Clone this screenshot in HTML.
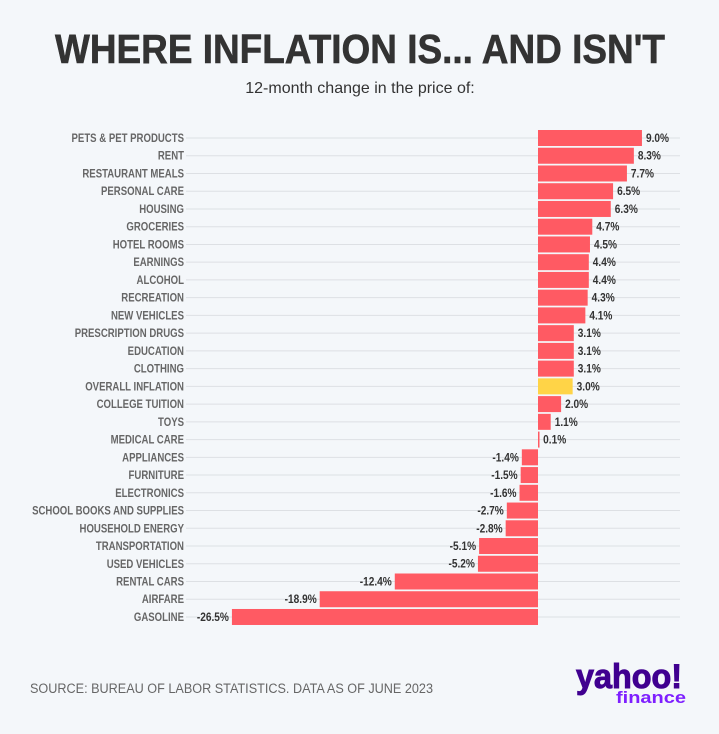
<!DOCTYPE html>
<html><head><meta charset="utf-8"><style>
body{margin:0;background:#f4f7fa;}
svg{display:block}
.l{font-family:"Liberation Sans Narrow","Liberation Sans",sans-serif;font-weight:bold;font-size:12px;fill:#666;}
.v{font-family:"Liberation Sans Narrow","Liberation Sans",sans-serif;font-weight:bold;font-size:11.5px;fill:#333;}
</style></head><body>
<svg width="719" height="734" xmlns="http://www.w3.org/2000/svg">
<rect width="719" height="734" fill="#f4f7fa"/>
<text x="360" y="63" text-anchor="middle" font-family="Liberation Sans,sans-serif" font-weight="bold" font-size="41" fill="#333" stroke="#333" stroke-width="0.6" textLength="610" lengthAdjust="spacingAndGlyphs">WHERE INFLATION IS... AND ISN'T</text>
<text x="360" y="93" text-anchor="middle" font-family="Liberation Sans,sans-serif" font-size="16" fill="#333">12-month change in the price of:</text>
<g id="rows"></g>
<text x="30" y="693" font-family="Liberation Sans,sans-serif" font-size="13.5" fill="#666" textLength="403" lengthAdjust="spacingAndGlyphs">SOURCE: BUREAU OF LABOR STATISTICS. DATA AS OF JUNE 2023</text>
<text x="576" y="688" font-family="Liberation Sans,sans-serif" font-weight="bold" font-size="34" fill="#400090" stroke="#400090" stroke-width="1" textLength="106" lengthAdjust="spacingAndGlyphs">yahoo!</text>
<text x="616" y="703" font-family="Liberation Sans,sans-serif" font-weight="bold" font-size="17" fill="#7e1fff" textLength="70" lengthAdjust="spacingAndGlyphs">finance</text>
</svg>
<script>
var d=[["PETS & PET PRODUCTS",9.0],["RENT",8.3],["RESTAURANT MEALS",7.7],["PERSONAL CARE",6.5],["HOUSING",6.3],["GROCERIES",4.7],["HOTEL ROOMS",4.5],["EARNINGS",4.4],["ALCOHOL",4.4],["RECREATION",4.3],["NEW VEHICLES",4.1],["PRESCRIPTION DRUGS",3.1],["EDUCATION",3.1],["CLOTHING",3.1],["OVERALL INFLATION",3.0],["COLLEGE TUITION",2.0],["TOYS",1.1],["MEDICAL CARE",0.1],["APPLIANCES",-1.4],["FURNITURE",-1.5],["ELECTRONICS",-1.6],["SCHOOL BOOKS AND SUPPLIES",-2.7],["HOUSEHOLD ENERGY",-2.8],["TRANSPORTATION",-5.1],["USED VEHICLES",-5.2],["RENTAL CARS",-12.4],["AIRFARE",-18.9],["GASOLINE",-26.5]];
var g=document.getElementById("rows"),h="",z=538,k=11.55,s=0.8,sv=0.88;
d.forEach(function(r,i){var y=138+i*17.74,v=r[1],w=Math.abs(v)*k,x=v<0?z-w:z;
h+='<line x1="186" x2="680" y1="'+y+'" y2="'+y+'" stroke="#dde0e4" stroke-width="1"/>';
h+='<text class="l" x="184" y="'+(y+4)+'" text-anchor="end" transform="translate('+(184*(1-s))+',0) scale('+s+',1)">'+r[0].replace("&","&amp;")+'</text>';
h+='<rect x="'+x+'" y="'+(y-8)+'" width="'+Math.max(w,1.5)+'" height="16" fill="'+(r[0]=="OVERALL INFLATION"?"#ffd447":"#ff5a63")+'"/>';
var t=v.toFixed(1)+"%",tx=v<0?x-3:x+w+4;
h+='<text class="v" x="'+tx+'" y="'+(y+4)+'" text-anchor="'+(v<0?"end":"start")+'" transform="translate('+(tx*(1-sv))+',0) scale('+sv+',1)">'+t+'</text>';});
g.innerHTML=h;
</script>
</body></html>
